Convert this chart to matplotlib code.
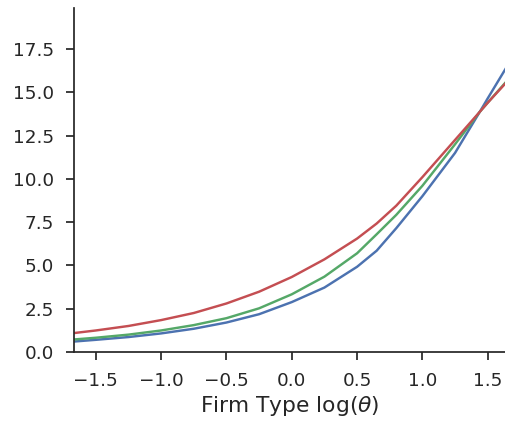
import numpy as np
import matplotlib
matplotlib.use('Agg')
import matplotlib.pyplot as plt

# firm type grid, log(theta)
log_theta = [-1.668, -1.5, -1.25, -1.0, -0.75, -0.5, -0.25, 0.0, 0.25, 0.5,
             0.65, 0.8, 1.0, 1.25, 1.44, 1.5, 1.64]

# three series
blue_vals = [0.60, 0.70, 0.86, 1.07, 1.34, 1.70, 2.18, 2.88, 3.72, 4.92,
             5.85, 7.15, 9.00, 11.50, 13.88, 14.65, 16.40]
green_vals = [0.72, 0.82, 1.00, 1.24, 1.55, 1.95, 2.52, 3.33, 4.35, 5.70,
              6.80, 7.92, 9.60, 12.00, 13.88, 14.40, 15.60]
red_vals = [1.09, 1.24, 1.50, 1.84, 2.25, 2.80, 3.48, 4.33, 5.35, 6.55,
            7.42, 8.45, 10.10, 12.25, 13.88, 14.40, 15.55]

x_ticks = [-1.5, -1.0, -0.5, 0.0, 0.5, 1.0, 1.5]
y_ticks = [0.0, 2.5, 5.0, 7.5, 10.0, 12.5, 15.0, 17.5]

text_col = '#262626'
plt.rcParams['font.family'] = 'DejaVu Sans'

fig = plt.figure(figsize=(5.06, 4.23), dpi=100)
ax = fig.add_axes([0.146, 0.168, 0.854, 0.813])

ax.plot(log_theta, blue_vals, color='#4C72B0', lw=1.75)
ax.plot(log_theta, green_vals, color='#55A868', lw=1.75)
ax.plot(log_theta, red_vals, color='#C44E52', lw=1.75)

ax.set_xlim(-1.668, 1.64)
ax.set_ylim(0, 19.87)
ax.set_xticks(x_ticks)
ax.set_yticks(y_ticks)
ax.set_xticklabels(['\u2212%.1f' % abs(v) if v < 0 else '%.1f' % v for v in x_ticks])
ax.set_yticklabels(['%.1f' % v for v in y_ticks])

ax.spines['top'].set_visible(False)
ax.spines['right'].set_visible(False)
for s in ['left', 'bottom']:
    ax.spines[s].set_linewidth(1.25)
    ax.spines[s].set_color(text_col)
ax.tick_params(direction='out', length=6, width=1.25, colors=text_col,
               labelsize=13.2, pad=8.5)
ax.set_xlabel(r'Firm Type $\log(\theta)$', fontsize=15.7, color=text_col, labelpad=3)

fig.savefig('out.png', dpi=100)
